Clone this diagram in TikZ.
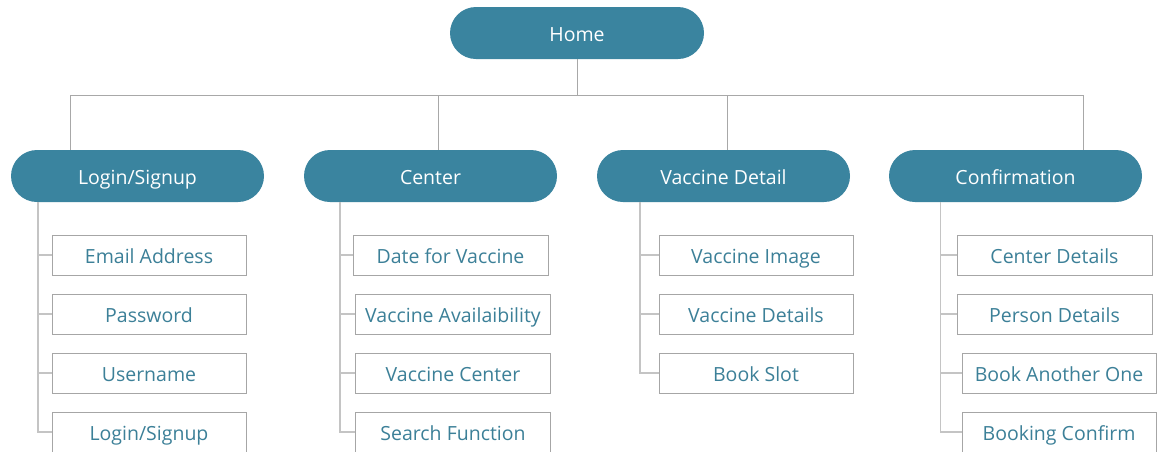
\documentclass[tikz,border=0pt]{standalone}
\usepackage{fontspec}
\setmainfont{Open Sans}
\definecolor{pillfill}{HTML}{3A849F}
\definecolor{boxtext}{HTML}{3C8098}
\definecolor{linegray}{HTML}{A8A8A8}
\definecolor{childgray}{HTML}{C4C4C4}
\definecolor{boxgray}{HTML}{A6A6A6}
\begin{document}
\begin{tikzpicture}[x=1pt,y=-1pt,
  txt/.style={font=\fontsize{19.5}{21}\selectfont,text height=17pt,text depth=0pt},
  pill/.style={txt,fill=pillfill,draw=none,rounded corners=26pt,minimum width=253pt,minimum height=52pt,inner sep=0pt,text=white},
  leaf/.style={txt,draw=boxgray,line width=1pt,fill=white,minimum height=40pt,inner sep=0pt,text=boxtext},
  mainline/.style={draw=linegray,line width=1pt},
  childline/.style={draw=childgray,line width=1.6pt}]
\useasboundingbox (0,0) rectangle (1163,451);
\fill[white] (0,0) rectangle (1163,451);
% top
\node[pill,minimum width=254pt] (home) at (577,33) {Home};
\node[pill] (login) at (137.5,176) {Login/Signup};
\node[pill] (center) at (430.5,176) {Center};
\node[pill] (vdet) at (723.5,176) {Vaccine Detail};
\node[pill] (conf) at (1015.5,176) {Confirmation};
% bus
\draw[mainline] (home.south) -- ++(0,36) -| ([xshift=-67.5pt]login.north);
\draw[mainline] (home.south) ++(0,36) -| ([xshift=7.5pt]center.north);
\draw[mainline] (home.south) ++(0,36) -| ([xshift=3.5pt]vdet.north);
\draw[mainline] (home.south) ++(0,36) -| ([xshift=67.5pt]conf.north);
% login children
\node[leaf,minimum width=194pt] (l1) at (149,255) {Email Address};
\node[leaf,minimum width=194pt] (l2) at (149,314) {Password};
\node[leaf,minimum width=194pt] (l3) at (149,373) {Username};
\node[leaf,minimum width=194pt] (l4) at (149,432) {Login/Signup};
% center children
\node[leaf,minimum width=195pt] (c1) at (450.5,255) {Date for Vaccine};
\node[leaf,minimum width=195pt] (c2) at (453,314) {Vaccine Availaibility};
\node[leaf,minimum width=195pt] (c3) at (453,373) {Vaccine Center};
\node[leaf,minimum width=195pt] (c4) at (453,432) {Search Function};
% vaccine detail children
\node[leaf,minimum width=194pt] (v1) at (756,255) {Vaccine Image};
\node[leaf,minimum width=194pt] (v2) at (756,314) {Vaccine Details};
\node[leaf,minimum width=194pt] (v3) at (756,373) {Book Slot};
% confirmation children
\node[leaf,minimum width=195pt] (f1) at (1054.5,255) {Center Details};
\node[leaf,minimum width=195pt] (f2) at (1054.5,314) {Person Details};
\node[leaf,minimum width=194pt] (f3) at (1059,373) {Book Another One};
\node[leaf,minimum width=194pt] (f4) at (1059,432) {Booking Confirm};
% child connectors
\foreach \c in {l1,l2,l3,l4}{\draw[childline] ([xshift=-99.5pt]login.south) |- (\c.west);}
\foreach \c in {c1,c2,c3,c4}{\draw[childline] ([xshift=-90.5pt]center.south) |- (\c.west);}
\foreach \c in {v1,v2,v3}{\draw[childline] ([xshift=-83.5pt]vdet.south) |- (\c.west);}
\foreach \c in {f1,f2,f3,f4}{\draw[childline] ([xshift=-75pt]conf.south) |- (\c.west);}
\end{tikzpicture}
\end{document}
